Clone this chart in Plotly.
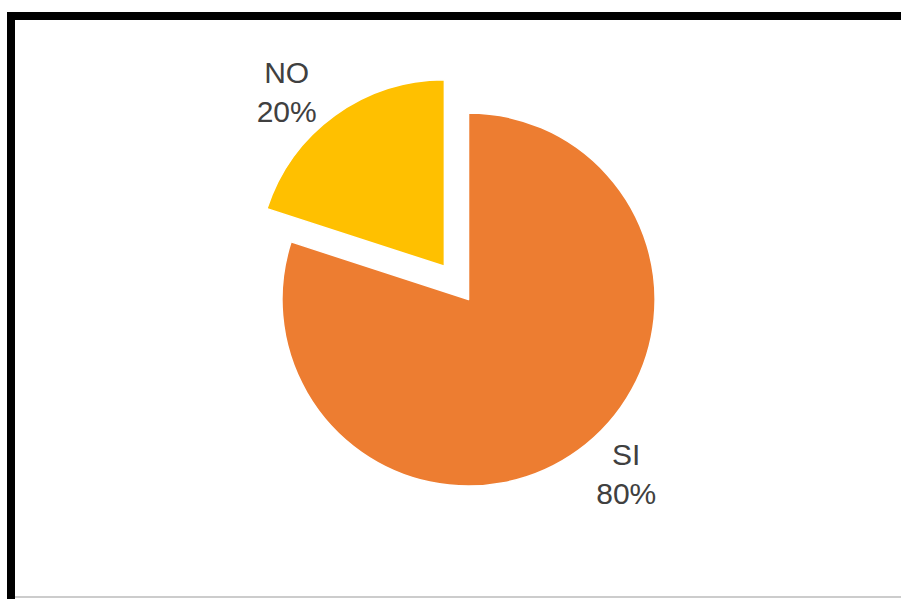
import plotly.graph_objects as go

labels = ["SI", "NO"]
values = [80, 20]
colors = ["#ED7D31", "#FFC000"]
pulls = [0, 0.22]

fig = go.Figure(go.Pie(
    labels=labels,
    values=values,
    sort=False,
    direction="clockwise",
    rotation=0,
    pull=pulls,
    automargin=False,
    marker=dict(colors=colors, line=dict(color="white", width=1.5)),
    texttemplate="%{label}<br>%{percent:.0%}",
    textposition="outside",
    textfont=dict(family="Liberation Sans, Arial, sans-serif", size=30, color="#404040"),
    showlegend=False,
    domain=dict(x=[0.15, 0.89], y=[0.12, 0.88]),
))

W, H = 901, 599
fig.update_layout(
    width=W, height=H,
    margin=dict(l=0, r=0, t=0, b=0, autoexpand=False),
    paper_bgcolor="white",
    plot_bgcolor="white",
    shapes=[
        dict(type="line", xref="paper", yref="paper",
             x0=11 / W, x1=1.02, y0=1 - 16 / H, y1=1 - 16 / H,
             line=dict(color="black", width=8)),
        dict(type="line", xref="paper", yref="paper",
             x0=11 / W, x1=11 / W, y0=1 - 12 / H, y1=-0.02,
             line=dict(color="black", width=8)),
        dict(type="line", xref="paper", yref="paper",
             x0=15 / W, x1=1.02, y0=2 / H, y1=2 / H,
             line=dict(color="#CCCCCC", width=2)),
    ],
)

fig.write_html("out.html")
